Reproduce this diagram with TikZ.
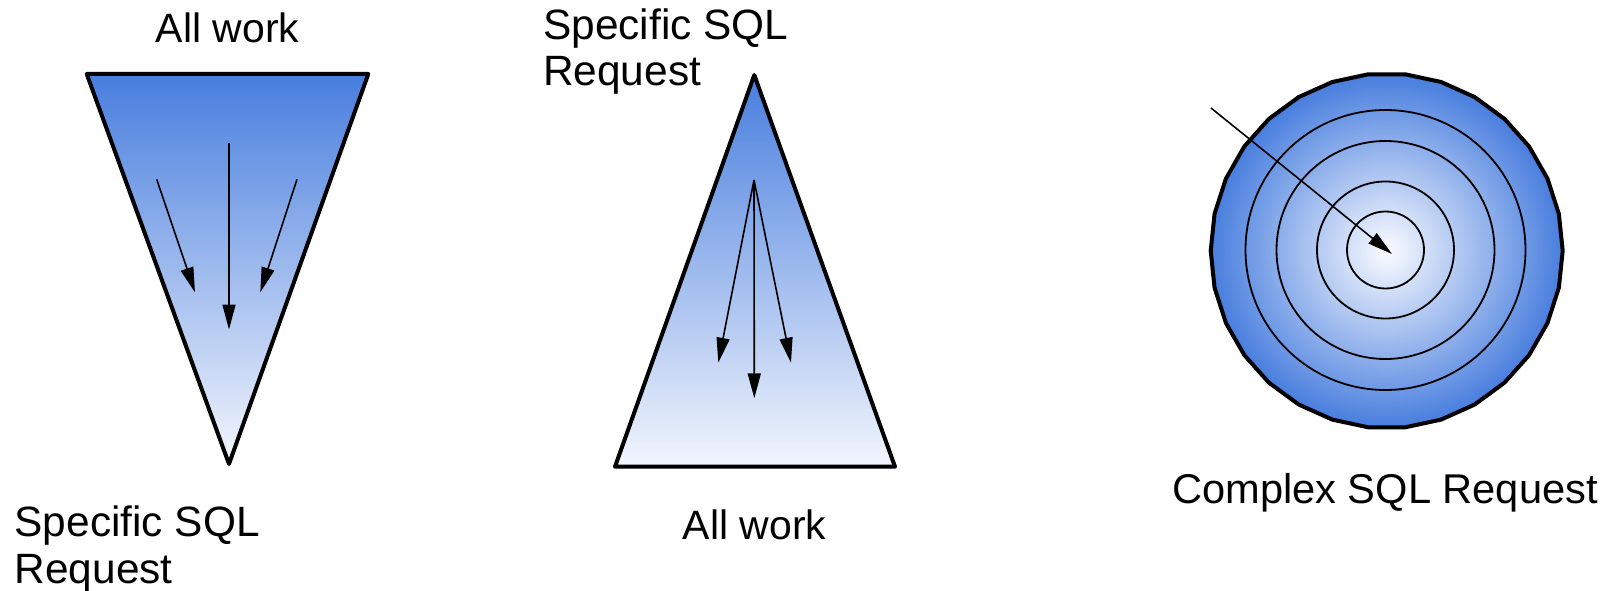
\documentclass[tikz,border=0pt]{standalone}
\usepackage{fontspec}
\setmainfont{Liberation Sans}
\usetikzlibrary{arrows.meta}
\definecolor{gblue}{RGB}{72,126,222}
\definecolor{gwhite}{RGB}{243,246,253}
\definecolor{gcore}{RGB}{250,251,255}
\begin{document}
\begin{tikzpicture}[x=1pt,y=-1pt,
  lbl/.style={font=\fontsize{41}{46.5}\selectfont, inner sep=0pt},
  lblb/.style={font=\fontsize{42.4}{46.5}\selectfont, inner sep=0pt},
  outline/.style={draw=black, line width=4pt, line join=round},
  flow/.style={draw=black, line width=1.6pt, -{Triangle[length=25pt,width=13pt]}},
  ring/.style={draw=black, line width=1.8pt}]
\useasboundingbox (0,0) rectangle (1610,591);
% --- left funnel ---
\coordinate (t1a) at (86.7,74);
\coordinate (t1b) at (368.3,74);
\coordinate (t1c) at (229,464);
\path[outline, top color=gblue, bottom color=gwhite] (t1a) -- (t1b) -- (t1c) -- cycle;
\coordinate (f1s) at (229,143.3);
\coordinate (f1e) at (229,329.5);
\coordinate (f2s) at (156.7,179.3);
\coordinate (f2e) at (195,292.3);
\coordinate (f3s) at (297,179.3);
\coordinate (f3e) at (260.3,292.3);
\draw[flow] (f1s) -- (f1e);
\draw[flow] (f2s) -- (f2e);
\draw[flow] (f3s) -- (f3e);
\node[lbl, anchor=base] (w1) at (227.5,42.5) {All work};
\node[lblb, anchor=base west, align=left] (s1) at (14.5,583.3) {Specific SQL\\Request};
% --- middle pyramid ---
\coordinate (t2a) at (754.3,75);
\coordinate (t2b) at (615,466.7);
\coordinate (t2c) at (895,466.7);
\path[outline, top color=gblue, bottom color=gwhite] (t2a) -- (t2c) -- (t2b) -- cycle;
\coordinate (g0) at (754,180);
\coordinate (g1) at (718.3,362.7);
\coordinate (g2) at (754.3,398.3);
\coordinate (g3) at (791,362.7);
\draw[flow] (g0) -- (g1);
\draw[flow] (g0) -- (g2);
\draw[flow] (g0) -- (g3);
\node[lblb, anchor=base west, align=left] (s2) at (543,86) {Specific SQL\\Request};
\node[lbl, anchor=base] (w2) at (754.7,539) {All work};
% --- target ---
\coordinate (cc) at (1386.7,250.8);
\path[outline, inner color=gcore, outer color=gblue]
  plot[samples=31, domain=0:360, variable=\t] ({1386.7+176*cos(\t)},{250.8+177.5*sin(\t)}) -- cycle;
\coordinate (rc) at (1385.5,250);
\draw[ring] (rc) circle[radius=38.5];
\draw[ring] (rc) circle[radius=68.5];
\draw[ring] (rc) circle[radius=109];
\draw[ring] (rc) circle[radius=140];
\coordinate (ca) at (1211,108);
\coordinate (cb) at (1392,254);
\draw[flow] (ca) -- (cb);
\node[lbl, font=\fontsize{41.6}{46.5}\selectfont, anchor=base] (cx) at (1385,503) {Complex SQL Request};
\end{tikzpicture}
\end{document}
